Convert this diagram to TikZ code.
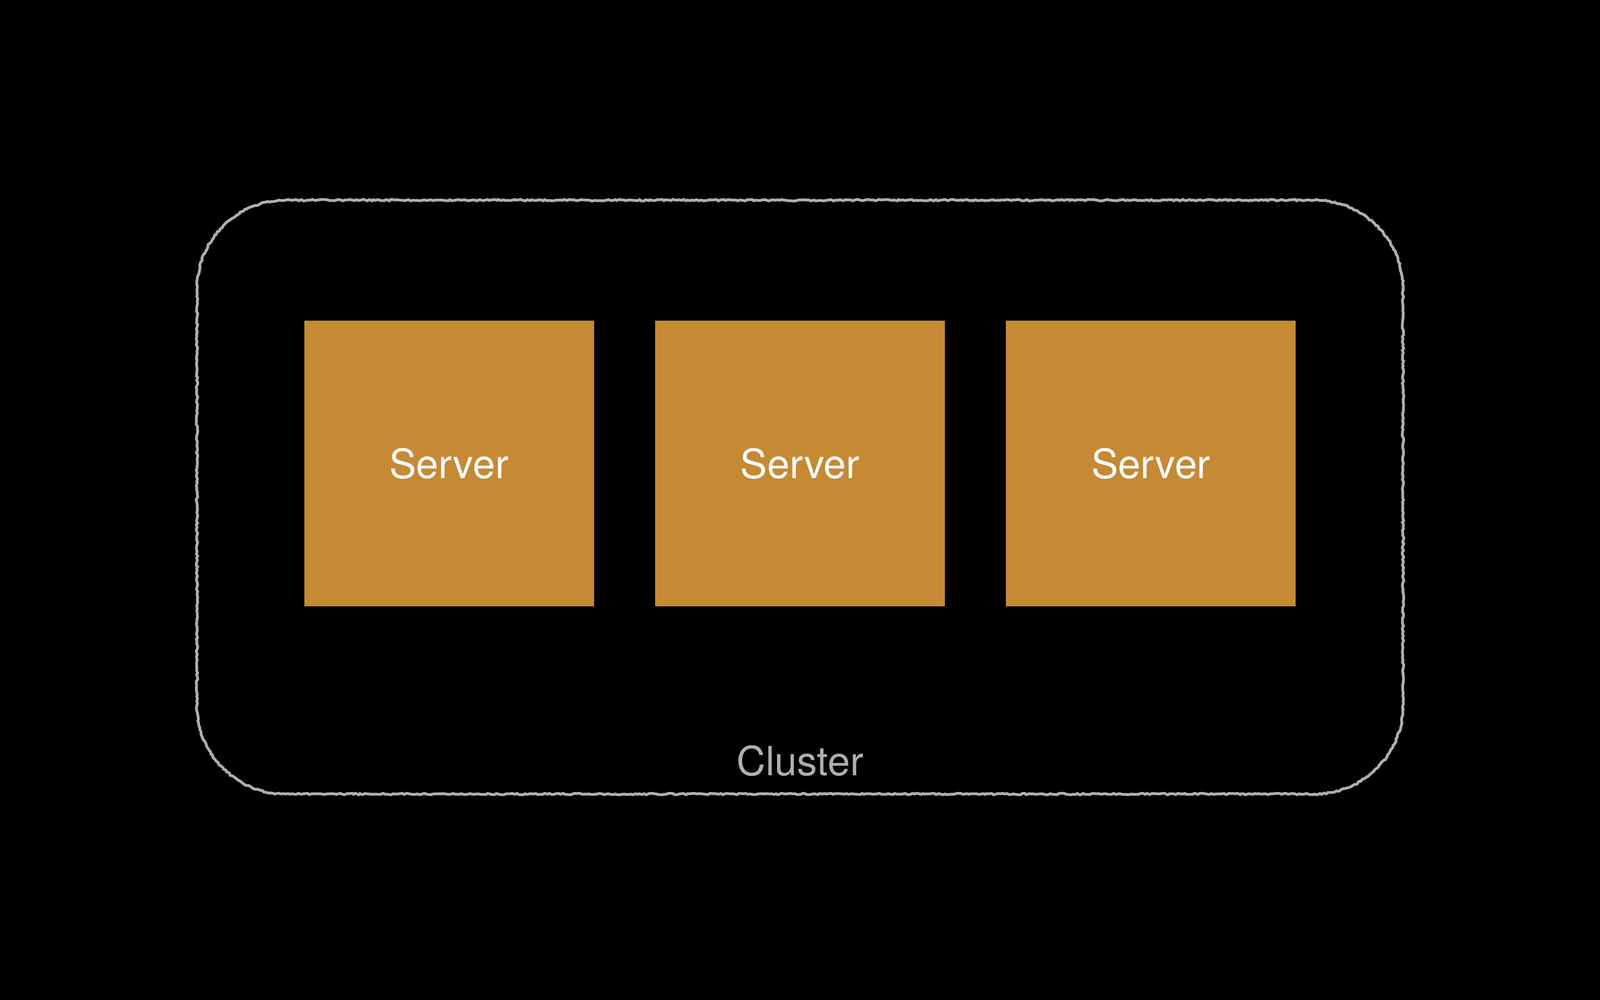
\documentclass[tikz,border=0pt]{standalone}
\usepackage{fontspec}
\setmainfont{TeX Gyre Heros}
\usepackage{xcolor}
\usepackage{tikz}
\usetikzlibrary{positioning, decorations.pathmorphing}

\definecolor{serverorange}{RGB}{198,137,52}
\definecolor{chalkgray}{RGB}{175,175,175}

\begin{document}
\begin{tikzpicture}[
    node distance=1.16cm,
    server/.style={rectangle, fill=serverorange, minimum width=5.56cm, minimum height=5.48cm, align=center, font=\fontsize{22}{26}\selectfont, text=white},
    clusterbox/.style={rectangle, outer sep=0pt, minimum width=23.14cm, minimum height=11.39cm},
    chalk/.style={draw=chalkgray, line width=1.5pt, decorate, decoration={random steps, segment length=1.2pt, amplitude=0.4pt}},
    clusterlabel/.style={font=\fontsize{22}{26}\selectfont, text=chalkgray}
]
\useasboundingbox[fill=black] (0,0) rectangle (30.70,19.18);

\node[clusterbox] (cluster) at (15.35,9.645) {};
\draw[chalk] ([xshift=1.7cm]cluster.north west) -- ([xshift=-1.7cm]cluster.north east)
    arc[start angle=90, end angle=0, radius=1.7cm] -- ([yshift=1.7cm]cluster.south east)
    arc[start angle=0, end angle=-90, radius=1.7cm] -- ([xshift=1.7cm]cluster.south west)
    arc[start angle=270, end angle=180, radius=1.7cm] -- ([yshift=-1.7cm]cluster.north west)
    arc[start angle=180, end angle=90, radius=1.7cm] -- cycle;

\node[server] (server2) at (15.35,10.29) {Server};
\node[server, left=of server2] (server1) {Server};
\node[server, right=of server2] (server3) {Server};
\node[clusterlabel] (clustername) at (15.35,4.59) {Cluster};

\end{tikzpicture}
\end{document}
